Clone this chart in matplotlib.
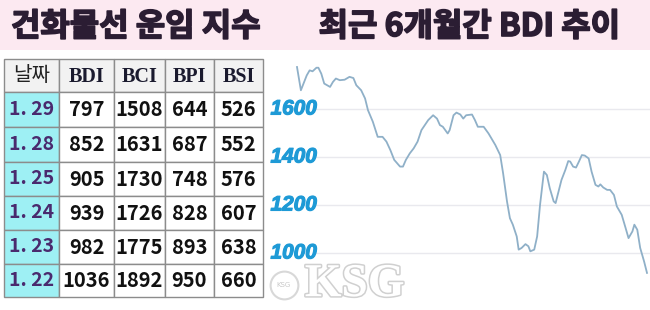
import matplotlib
matplotlib.use("Agg")
import matplotlib.pyplot as plt
import matplotlib.patheffects as pe

# --- table data ---
dates = ["1. 29", "1. 28", "1. 25", "1. 24", "1. 23", "1. 22"]
cols = ["BDI", "BCI", "BPI", "BSI"]
bdi_tbl = [797, 852, 905, 939, 982, 1036]
bci_tbl = [1508, 1631, 1730, 1726, 1775, 1892]
bpi_tbl = [644, 687, 748, 828, 893, 950]
bsi_tbl = [526, 552, 576, 607, 638, 660]

# --- BDI line, last ~6 months (day offset, index value) ---
days = [0, 2, 5, 6.5, 8, 10, 11, 12.5, 14, 17, 18.5, 20, 22, 24.5, 27, 29, 30.5, 33, 35, 36.5,
        39, 41.5, 44, 46, 48, 50, 53, 54.5, 56, 58, 60, 62, 64, 67.5, 70, 72, 73.5, 75, 77.5, 78.5,
        80.5, 82, 84, 85.5, 87, 90, 91.5, 93, 96, 98.5, 102, 104.5, 106, 108, 109.5, 111, 113, 114, 115.5, 117.5,
        119, 120, 122, 123.5, 125, 127, 128.5, 130, 132, 133, 134.5, 136, 138, 139.5, 140.5, 142, 143.5, 145,
        146.5, 148, 150, 151.5, 153.5, 155, 156, 157.5, 159.5, 161, 163, 164.5, 167, 169, 170.5, 172.5, 173.5,
        175, 176.5, 178.5, 180]
bdi = [1775, 1678, 1740, 1761, 1757, 1772, 1772, 1747, 1706, 1692, 1713, 1727, 1720, 1722, 1734, 1729, 1699, 1678, 1644, 1595,
       1547, 1484, 1484, 1464, 1429, 1388, 1360, 1360, 1388, 1415, 1436, 1464, 1512, 1554, 1574, 1560, 1533, 1526, 1498, 1512,
       1574, 1585, 1577, 1560, 1574, 1577, 1554, 1526, 1526, 1498, 1450, 1408, 1332, 1215, 1145, 1118, 1069, 1014, 1021, 1037,
       1028, 1007, 1014, 1069, 1201, 1339, 1325, 1270, 1215, 1208, 1256, 1304, 1346, 1383, 1381, 1360, 1356, 1381,
       1408, 1406, 1394, 1339, 1284, 1277, 1286, 1273, 1263, 1263, 1242, 1194, 1159, 1104, 1062, 1090, 1118,
       1097, 1021, 965, 917]
yticks = [1000, 1200, 1400, 1600]

W, H = 650, 310
fig = plt.figure(figsize=(W / 100, H / 100), dpi=100)
fig.patch.set_facecolor("white")

# title band
band = fig.add_axes([0, 1 - 50 / H, 1, 50 / H])
band.set_xlim(0, W)
band.set_ylim(50, 0)
band.axis("off")
band.add_patch(plt.Rectangle((0, 0), W, 50, color="#fce9f1", zorder=0))
tfont = dict(family=["Noto Sans CJK KR", "DejaVu Sans"], fontweight="heavy", fontsize=23,
             color="#2b1d33", va="center",
             path_effects=[pe.withStroke(linewidth=1.2, foreground="#2b1d33")])
band.text(11, 27, "건화물선 운임 지수", ha="left", **tfont)
band.text(620, 27, "최근 6개월간 BDI 추이", ha="right", **tfont)

# table drawn in pixel space
tab = fig.add_axes([0, 0, 265 / W, 1])
tab.set_xlim(0, 265)
tab.set_ylim(H, 0)
tab.axis("off")
col_x = [4, 59, 114, 165, 214, 263]
row_y = [59, 92, 127, 162, 196, 230, 264, 297]
rows = list(zip(bdi_tbl, bci_tbl, bpi_tbl, bsi_tbl))
for r in range(7):
    for c in range(5):
        x0, x1 = col_x[c], col_x[c + 1]
        y0, y1 = row_y[r], row_y[r + 1]
        if r == 0:
            fc = "#f2f2f2"
        elif c == 0:
            fc = "#9ef0f4"
        else:
            fc = "white"
        tab.add_patch(plt.Rectangle((x0, y0), x1 - x0, y1 - y0, facecolor=fc,
                                    edgecolor="#8c8c8c", lw=1.0))
        cx, cy = (x0 + x1) / 2, (y0 + y1) / 2
        if r == 0:
            if c == 0:
                tab.text(cx, cy, "날짜", ha="center", va="center", fontsize=14.5,
                         family=["Noto Sans CJK KR", "DejaVu Sans"], color="#222222")
            else:
                tab.text(cx, cy + 1, cols[c - 1], ha="center", va="center", fontsize=14.5,
                         family="Liberation Serif", fontweight="bold", color="#1a1a2e")
        elif c == 0:
            tab.text(cx, cy, dates[r - 1], ha="center", va="center", fontsize=14,
                     family="Noto Sans CJK KR", fontweight="bold", color="#4a2a6e")
        else:
            tab.text(cx, cy, str(rows[r - 1][c - 1]), ha="center", va="center", fontsize=14.5,
                     family="Noto Sans CJK KR", fontweight="bold", color="#111111")

# BDI chart
ax = fig.add_axes([265 / W, 0, 385 / W, 255 / H])
px_day = 350 / 180
ax.set_xlim(-32 / px_day, 180 + 3 / px_day)
ax.set_ylim(1000 - 57 * 200 / 48, 1600 + 54 * 200 / 48)
ax.axis("off")
ax.hlines(yticks, 18 / px_day, 182, color="#e9e9ee", lw=1.0, zorder=1)
ax.plot(days, bdi, color="#8fb0c8", lw=1.3, zorder=3)
for v in yticks:
    ax.text(20 / px_day, v, str(v), ha="right", va="center", fontsize=15,
            family="Liberation Sans", fontweight="bold", style="italic", color="#1e9ad6",
            path_effects=[pe.withStroke(linewidth=0.8, foreground="#1e9ad6")])

# KSG watermark
ax.text(4, 866, "KSG", ha="left", va="center", fontsize=34, family="Liberation Serif",
        fontweight="bold", color="white", zorder=5,
        path_effects=[pe.withStroke(linewidth=2.2, foreground="#d0d0d0")])
ax.plot([-6.7], [866], marker="o", markersize=20, markerfacecolor="none",
        markeredgecolor="#d8d8d8", markeredgewidth=1.5, zorder=4)
ax.text(-6.7, 866, "KSG", ha="center", va="center", fontsize=5, color="#c8c8c8", zorder=5)

fig.savefig("out.png", dpi=100)
